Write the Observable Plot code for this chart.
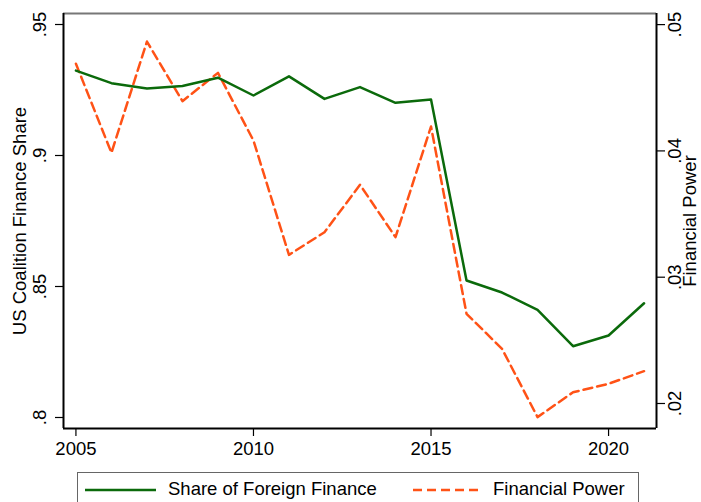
<!DOCTYPE html>
<html>
<head>
<meta charset="utf-8">
<script src="https://cdn.jsdelivr.net/npm/d3@7"></script>
<script src="https://cdn.jsdelivr.net/npm/@observablehq/plot@0.6"></script>
<style>
  html, body { margin: 0; padding: 0; background: #fff; width: 701px; height: 502px; overflow: hidden; }
  body { position: relative; font-family: "Liberation Sans", Arial, Helvetica, sans-serif; }
  #chart { position: absolute; left: 0; top: 0; }
  #legend { position: absolute; left: 77px; top: 472px; width: 562px; height: 44px; border: 1px solid #666; box-sizing: border-box; background: #fff; }
  .item { position: absolute; top: 5px; font-size: 18.5px; color: #000; display: flex; align-items: center; white-space: nowrap; }
  .item svg { margin-right: 12px; }
</style>
</head>
<body>
<div id="chart"></div>
<div id="legend">
  <div class="item" style="left:7px"><svg width="71" height="20"><line x1="0" x2="71" y1="11" y2="11" stroke="#0b6a0b" stroke-width="2.5"/></svg>Share of Foreign Finance</div>
  <div class="item" style="left:335px"><svg width="68" height="20"><line x1="0" x2="68" y1="11" y2="11" stroke="#ff5216" stroke-width="2.5" stroke-dasharray="9,5"/></svg>Financial Power</div>
</div>
<script>
// ---- data ----
const years = [2005, 2006, 2007, 2008, 2009, 2010, 2011, 2012, 2013, 2014, 2015, 2016, 2017, 2018, 2019, 2020, 2021];
const shareForeignFinance = [0.9324, 0.9276, 0.9256, 0.9265, 0.9297, 0.9229, 0.9302, 0.9216, 0.9261, 0.9201, 0.9214, 0.8523, 0.8477, 0.8411, 0.8272, 0.8313, 0.8436];
const financialPower = [0.0469, 0.03985, 0.04866, 0.04394, 0.04618, 0.04082, 0.03177, 0.03356, 0.03732, 0.03317, 0.04193, 0.0271, 0.02433, 0.01892, 0.02089, 0.02156, 0.02256];
const xTicks = [2005, 2010, 2015, 2020];
const leftTicks = [0.8, 0.85, 0.9, 0.95];
const rightTicks = [0.02, 0.03, 0.04, 0.05];
const leftTitle = "US Coalition Finance Share";
const rightTitle = "Financial Power";

// ---- scales ----
const xDomain = [2004.65, 2021.35];
const leftDomain = [0.7958, 0.9542];
const rightDomain = [0.01802, 0.05088];
const toLeft = r => leftDomain[0] + (r - rightDomain[0]) / (rightDomain[1] - rightDomain[0]) * (leftDomain[1] - leftDomain[0]);
const fmt = d => String(d).replace(/^0/, "");

const data = years.map((year, i) => ({year, share: shareForeignFinance[i], power: financialPower[i]}));
const green = "#0b6a0b";
const orange = "#ff5216";
const fs = 18.5;

const chart = Plot.plot({
  width: 701,
  height: 466,
  marginLeft: 63,
  marginRight: 45,
  marginTop: 13,
  marginBottom: 38,
  style: {fontFamily: '"Liberation Sans", Arial, sans-serif', fontSize: fs + "px", background: "#fff", color: "#000", overflow: "visible"},
  x: {domain: xDomain, axis: null},
  y: {domain: leftDomain, axis: null},
  marks: [
    // frame
    Plot.ruleY([leftDomain[1]], {stroke: "#777", strokeWidth: 2}),
    Plot.ruleY([leftDomain[0]], {stroke: "#000", strokeWidth: 2}),
    Plot.ruleX([xDomain[0]], {stroke: "#000", strokeWidth: 2}),
    Plot.ruleX([xDomain[1]], {stroke: "#000", strokeWidth: 2}),
    // axes ticks
    Plot.axisX({ticks: xTicks, tickSize: 8, tickPadding: 5, tickFormat: d => String(d), label: null, fontSize: fs, strokeWidth: 1.2}),
    Plot.axisY({anchor: "left", ticks: leftTicks, tickSize: 8, text: null, label: null, strokeWidth: 1.2}),
    Plot.axisY({anchor: "right", ticks: rightTicks.map(toLeft), tickSize: 8, text: null, label: null, strokeWidth: 1.2}),
    // tick labels
    Plot.text(leftTicks, {y: d => d, text: fmt, frameAnchor: "left", dx: -23, rotate: -90, textAnchor: "middle", lineAnchor: "middle", fontSize: fs, fill: "#000"}),
    Plot.text(rightTicks, {y: d => toLeft(d), text: fmt, frameAnchor: "right", dx: 19, rotate: -90, textAnchor: "middle", lineAnchor: "middle", fontSize: fs, fill: "#000"}),
    // axis titles
    Plot.text([leftTitle], {text: d => d, frameAnchor: "left", dx: -43, rotate: -90, textAnchor: "middle", lineAnchor: "middle", fontSize: fs, fill: "#000"}),
    Plot.text([rightTitle], {text: d => d, frameAnchor: "right", dx: 34, rotate: -90, textAnchor: "middle", lineAnchor: "middle", fontSize: fs, fill: "#000"}),
    // lines
    Plot.line(data, {x: "year", y: d => toLeft(d.power), stroke: orange, strokeWidth: 2.5, strokeDasharray: "9,5"}),
    Plot.line(data, {x: "year", y: "share", stroke: green, strokeWidth: 2.5})
  ]
});
document.getElementById("chart").appendChild(chart);
</script>
</body>
</html>
